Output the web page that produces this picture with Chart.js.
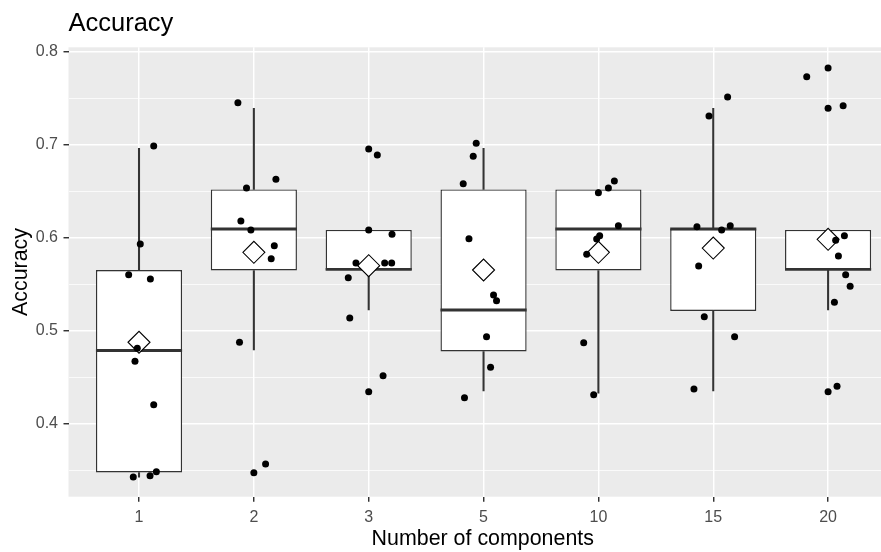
<!DOCTYPE html>
<html>
<head>
<meta charset="utf-8">
<script src="https://cdn.jsdelivr.net/npm/chart.js@4"></script>
<style>
  html, body { margin: 0; padding: 0; background: #ffffff; overflow: hidden; }
  #wrap { width: 881px; height: 552px; overflow: hidden; }
  canvas { display: block; }
</style>
</head>
<body>
<div id="wrap"><canvas id="c" width="897" height="552"></canvas></div>
<script>
// ---- data ----
const categories = ['1', '2', '3', '5', '10', '15', '20'];
const yMajorTicks = [0.4, 0.5, 0.6, 0.7, 0.8];
const yMinorTicks = [0.35, 0.45, 0.55, 0.65, 0.75];

// box statistics per category
const q1          = [0.348, 0.565, 0.5655, 0.478, 0.565, 0.5215, 0.5655];
const median      = [0.479, 0.6096, 0.5662, 0.5226, 0.6096, 0.6096, 0.5662];
const q3          = [0.5655, 0.652, 0.6085, 0.652, 0.652, 0.6096, 0.6085];
const whiskerLow  = [0.343, 0.4796, 0.5226, 0.4355, 0.4331, 0.4355, 0.5226];
const whiskerHigh = [0.6962, 0.7392, 0.6085, 0.6962, 0.652, 0.7392, 0.6085];
const meanAcc     = [0.4879, 0.5845, 0.5701, 0.5655, 0.5845, 0.5891, 0.5985];

// jittered observations: accuracy values and horizontal jitter (in category units)
const pointValues = [
  [0.6987, 0.5934, 0.5605, 0.5558, 0.4814, 0.4675, 0.4208, 0.3432, 0.3446, 0.3489],
  [0.7452, 0.6629, 0.6536, 0.6182, 0.6085, 0.5916, 0.5777, 0.4879, 0.3478, 0.3571],
  [0.6955, 0.6890, 0.6085, 0.6039, 0.5730, 0.5730, 0.5730, 0.5573, 0.5140, 0.4520, 0.4348],
  [0.7016, 0.6876, 0.6582, 0.5991, 0.5387, 0.5325, 0.4939, 0.4610, 0.4284],
  [0.6611, 0.6536, 0.6485, 0.6131, 0.6024, 0.5988, 0.5824, 0.4874, 0.4316],
  [0.7513, 0.7309, 0.6120, 0.6131, 0.6085, 0.5698, 0.5154, 0.4939, 0.4377],
  [0.7825, 0.7731, 0.7392, 0.7420, 0.6024, 0.5974, 0.5806, 0.5605, 0.5480, 0.5308, 0.4348, 0.4406]
];
const pointJitter = [
  [0.128, 0.011, -0.09, 0.099, -0.015, -0.035, 0.128, -0.05, 0.096, 0.151],
  [-0.139, 0.192, -0.064, -0.113, -0.026, 0.178, 0.151, -0.125, 0, 0.102],
  [0, 0.075, 0, 0.203, -0.111, 0.139, 0.2, -0.178, -0.165, 0.125, 0],
  [-0.064, -0.09, -0.177, -0.127, 0.087, 0.113, 0.026, 0.061, -0.166],
  [0.139, 0.087, 0, 0.174, 0.011, -0.015, -0.102, -0.128, -0.041],
  [0.125, -0.037, -0.142, 0.148, 0.073, -0.127, -0.078, 0.186, -0.168],
  [0, -0.186, 0, 0.131, 0.142, 0.066, 0.09, 0.153, 0.192, 0.055, 0, 0.078]
];

// ---- build datasets ----
const pos = categories.map((c, i) => i + 1);
const boxData = pos.map((x, i) => ({ x: x, y: [q1[i], q3[i]] }));
const lowWhisker = pos.map((x, i) => ({ x: x, y: [whiskerLow[i], q1[i]] }));
const highWhisker = pos.map((x, i) => ({ x: x, y: [q3[i], whiskerHigh[i]] }));
const medianData = pos.map((x, i) => ({ x: x, y: median[i] }));
const meanData = pos.map((x, i) => ({ x: x, y: meanAcc[i] }));
const jitterData = [];
pointValues.forEach((vals, i) => {
  vals.forEach((v, k) => jitterData.push({ x: pos[i] + pointJitter[i][k], y: v }));
});

const BOX_WIDTH = 0.75;
const ink = '#333333';

Chart.defaults.font.family = "'Liberation Sans', Arial, sans-serif";

const panelBg = {
  id: 'panelBg',
  beforeDraw(chart) {
    const a = chart.chartArea, ctx = chart.ctx;
    ctx.save();
    ctx.fillStyle = '#EBEBEB';
    ctx.fillRect(a.left, a.top, a.right - a.left, a.bottom - a.top);
    ctx.restore();
  }
};

const isMajor = v => yMajorTicks.some(t => Math.abs(t - v) < 1e-6);

new Chart(document.getElementById('c'), {
  type: 'bar',
  data: {
    datasets: [
      {
        type: 'scatter', label: 'points', data: jitterData, order: 1,
        pointRadius: 3.5, pointBackgroundColor: '#000000', pointBorderWidth: 0,
        pointBorderColor: '#000000'
      },
      {
        type: 'scatter', label: 'mean', data: meanData, order: 2,
        pointStyle: 'rectRot', pointRadius: 11,
        pointBackgroundColor: '#ffffff', pointBorderColor: '#000000', pointBorderWidth: 1.1
      },
      {
        type: 'scatter', label: 'median', data: medianData, order: 3,
        pointStyle: 'line',
        pointRadius: (ctx) => {
          const s = ctx.chart.scales.x;
          return s.getPixelForValue(1 + BOX_WIDTH / 2) - s.getPixelForValue(1);
        },
        pointBorderColor: ink, pointBorderWidth: 2.9
      },
      {
        type: 'bar', label: 'box', data: boxData, order: 4, grouped: false,
        categoryPercentage: 1, barPercentage: BOX_WIDTH,
        backgroundColor: '#ffffff', borderColor: ink, borderWidth: 1.4, borderSkipped: false
      },
      {
        type: 'bar', label: 'whiskerLow', data: lowWhisker, order: 5, grouped: false,
        barThickness: 1.4, backgroundColor: ink, borderWidth: 0
      },
      {
        type: 'bar', label: 'whiskerHigh', data: highWhisker, order: 5, grouped: false,
        barThickness: 1.4, backgroundColor: ink, borderWidth: 0
      }
    ]
  },
  options: {
    responsive: false,
    animation: false,
    devicePixelRatio: 1,
    events: [],
    layout: { padding: 0, autoPadding: false },
    plugins: {
      legend: { display: false },
      tooltip: { enabled: false },
      title: {
        display: true, text: 'Accuracy', align: 'start', fullSize: false,
        color: '#000000', font: { size: 25.5, weight: 'normal' },
        padding: { top: 8.5, bottom: 8.2 }
      }
    },
    scales: {
      x: {
        type: 'linear', min: 0.386, max: 7.6, bounds: 'data', offset: false,
        afterBuildTicks: (s) => { s.ticks = pos.map(v => ({ value: v })); },
        afterFit: (s) => { s.height = 55.3; },
        ticks: {
          callback: (v) => categories[Math.round(v) - 1],
          color: '#4D4D4D', font: { size: 16 }, padding: 6, maxRotation: 0, autoSkip: false
        },
        grid: {
          offset: false,
          color: '#ffffff', lineWidth: 1.45, drawTicks: true, tickLength: 5,
          tickColor: ink, tickWidth: 1.45
        },
        border: { display: false },
        title: {
          display: true, text: 'Number of components', color: '#000000',
          font: { size: 21.4 }, padding: { top: 0, bottom: 0 }
        }
      },
      y: {
        type: 'linear', min: 0.322, max: 0.8047, bounds: 'data',
        afterBuildTicks: (s) => {
          s.ticks = yMinorTicks.concat(yMajorTicks).sort((a, b) => a - b).map(v => ({ value: v }));
        },
        afterFit: (s) => { s.width = 68.5; },
        ticks: {
          callback: (v) => isMajor(v) ? v.toFixed(1) : '',
          color: '#4D4D4D', font: { size: 16 }, padding: 5.5, autoSkip: false
        },
        grid: {
          color: '#ffffff',
          lineWidth: (ctx) => (ctx.tick && isMajor(ctx.tick.value)) ? 1.45 : 0.73,
          drawTicks: true, tickLength: 5,
          tickColor: (ctx) => (ctx.tick && isMajor(ctx.tick.value)) ? ink : 'rgba(0,0,0,0)',
          tickWidth: 1.45
        },
        border: { display: false },
        title: {
          display: true, text: 'Accuracy', color: '#000000',
          font: { size: 21.4 }, padding: { top: 8, bottom: 0 }
        }
      }
    }
  },
  plugins: [panelBg]
});
</script>
</body>
</html>
